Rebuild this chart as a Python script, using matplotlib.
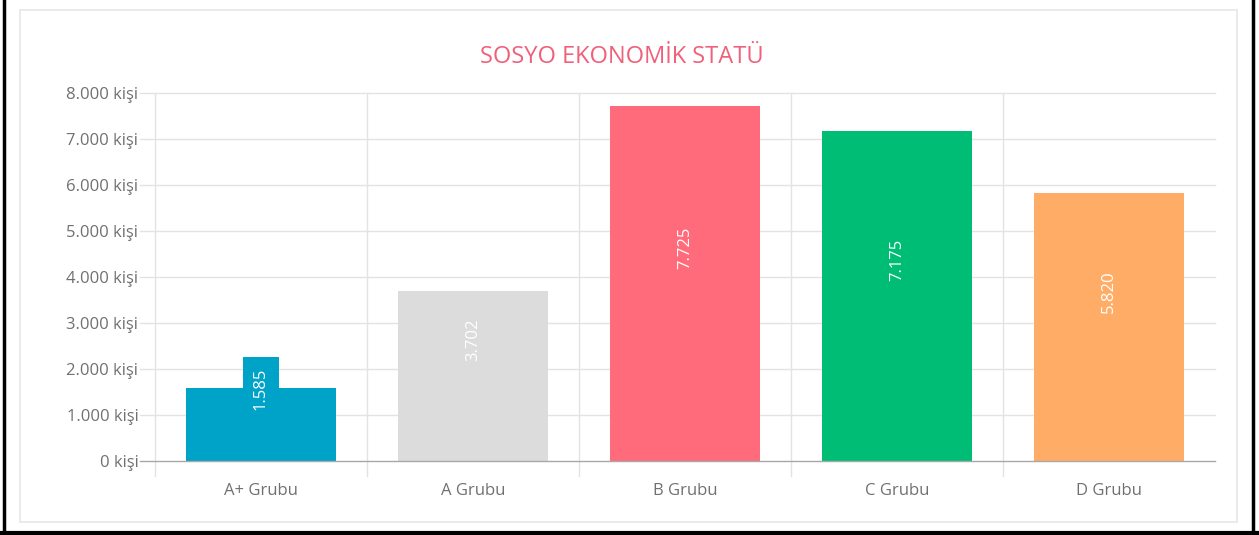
import matplotlib.pyplot as plt
from matplotlib.patches import Rectangle
from matplotlib.lines import Line2D

plt.rcParams['font.family'] = ['Open Sans', 'DejaVu Sans']

groups = ['A+ Grubu', 'A Grubu', 'B Grubu', 'C Grubu', 'D Grubu']
people = [1585, 3702, 7725, 7175, 5820]
colors = ['#00a3c8', '#dcdcdc', '#ff6b7a', '#00bd75', '#ffac66']
yticks = [0, 1000, 2000, 3000, 4000, 5000, 6000, 7000, 8000]


def fmt(n):
    return f'{n:,}'.replace(',', '.')


fig = plt.figure(figsize=(12.59, 5.35), dpi=100)
W, H = 1259, 535

# outer frame and card panel
fig.add_artist(Line2D([4 / W, 4 / W], [0, 1], color='black', lw=2.5))
fig.add_artist(Line2D([1253 / W, 1253 / W], [0, 1], color='black', lw=2.5))
fig.add_artist(Line2D([0, 1], [2 / H, 2 / H], color='black', lw=3))
fig.add_artist(Rectangle((20 / W, (H - 522) / H), (1237 - 20) / W, (522 - 10) / H,
                         fill=False, edgecolor='#e6e6e6', lw=1.2))

ax = fig.add_axes([155 / W, 74 / H, 1060 / W, 368 / H])
ax.set_xlim(-0.5, 4.5)
ax.set_ylim(0, 8000)
for s in ax.spines.values():
    s.set_visible(False)

for t in yticks[1:]:
    ax.axhline(t, xmin=-0.014, xmax=1, color='#e3e3e3', lw=1, clip_on=False, zorder=0)
for i in range(len(groups)):
    ax.axvline(i - 0.5, ymin=-0.04, ymax=1, color='#e3e3e3', lw=1, clip_on=False, zorder=0)
ax.axhline(0, xmin=-0.014, xmax=1, color='#a8a8a8', lw=1, clip_on=False, zorder=3)

x = range(len(groups))
ax.bar(x, people, width=0.71, color=colors, zorder=2)

for i, v in enumerate(people):
    ax.text(i, v / 2 + 780, fmt(v), rotation=90, ha='center', va='center',
            color='white', fontsize=12, zorder=4,
            bbox=dict(boxstyle='square,pad=0.6', facecolor=colors[i], edgecolor='none'))

ax.set_yticks(yticks)
ax.set_yticklabels([f'{fmt(t)} kişi' for t in yticks])
ax.set_xticks(list(x))
ax.set_xticklabels(groups)
ax.tick_params(axis='both', length=0, labelsize=12, labelcolor='#707070')
ax.tick_params(axis='y', pad=12)
ax.tick_params(axis='x', pad=16)

fig.text(622 / W, (H - 57) / H, 'SOSYO EKONOMİK STATÜ', ha='center', va='center',
         color='#f0607a', fontsize=17)

fig.savefig('out.png', dpi=100, facecolor='white')
